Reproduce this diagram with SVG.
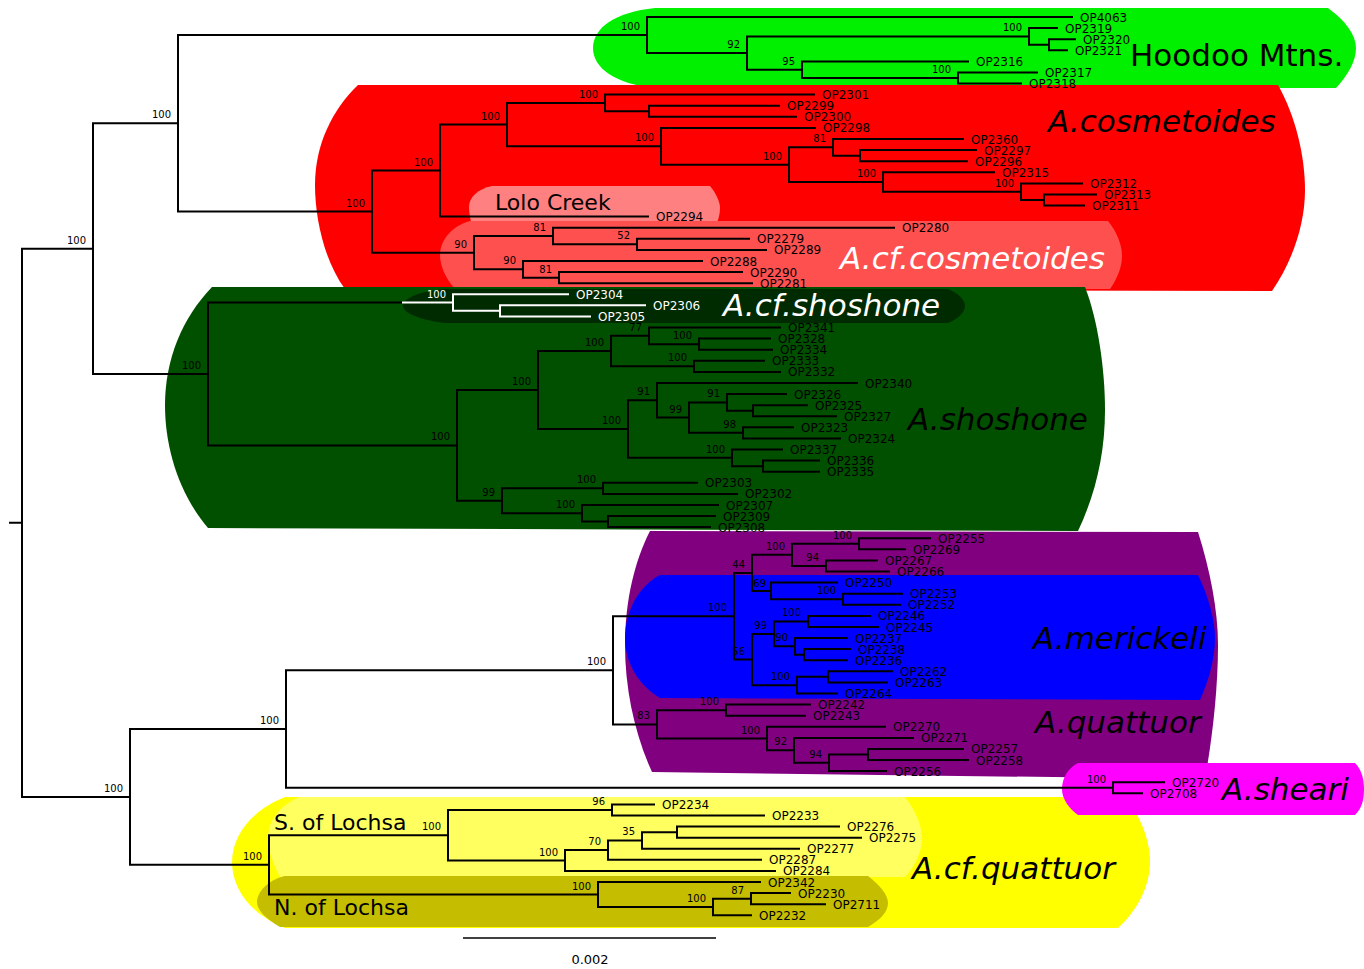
<svg xmlns="http://www.w3.org/2000/svg" width="1364" height="969" viewBox="0 0 1364 969">
<style>
.b{fill:none;stroke:#000;stroke-width:2;stroke-linecap:square}
.bw{fill:none;stroke:#fff;stroke-width:2;stroke-linecap:square}
text{font-family:"DejaVu Sans",Verdana,sans-serif;fill:#000}
.t{font-size:12px}
.s{font-size:10px;text-anchor:end}
.wt{fill:#fff}
.c{font-size:31px;font-style:italic}
.l{font-size:22px}
</style>
<rect width="1364" height="969" fill="#fff"/>
<g id="highlights">
<path id="hl-hoodoo" fill="#00f000" d="M655,8 L1328,8 C1345,20 1356,35 1356,48 C1356,62 1347,76 1336,88 L655,88 C615,84 593,68 593,48 C593,28 615,12 655,8 Z"/>
<path id="hl-cosmetoides" fill="#ff0000" d="M358,85 L1278,85 C1295,115 1305,155 1305,190 C1305,225 1292,262 1272,291 L345,289 C325,262 315,220 315,185 C315,145 332,110 358,85 Z"/>
<path id="hl-lolo" fill="#ff8080" d="M492,186 L710,186 C716,193 720,202 720,208 C720,215 718,221 715,227 L473,227 C470,220 469,212 469,207 C469,197 478,189 492,186 Z"/>
<path id="hl-cfcosm" fill="#ff5050" d="M470,221 L1108,221 C1117,232 1122,245 1122,256 C1122,267 1117,279 1110,289 L455,289 C445,278 440,265 440,255 C440,240 452,226 470,221 Z"/>
<path id="hl-shoshone" fill="#005000" d="M212,287 L1085,287 C1098,320 1105,370 1105,410 C1105,455 1095,495 1078,531 L208,528 C180,495 165,450 165,405 C165,360 182,318 212,287 Z"/>
<path id="hl-cfshoshone" fill="#002a00" d="M445,289 L948,289 C958,293 965,300 965,306 C965,312 958,319 948,323 L445,323 C420,320 403,313 403,306 C403,298 420,291 445,289 Z"/>
<path id="hl-quattuor" fill="#800080" d="M650,531 L1198,532 C1210,570 1218,610 1218,645 C1218,690 1212,740 1205,779 L652,772 C635,735 625,690 625,645 C625,600 635,560 650,531 Z"/>
<path id="hl-merickeli" fill="#0000ff" d="M660,575 L1198,575 C1208,595 1215,620 1215,638 C1215,660 1208,682 1200,700 L660,698 C638,685 625,662 625,638 C625,610 640,585 660,575 Z"/>
<path id="hl-cfquattuor" fill="#ffff00" d="M285,797 L1125,797 C1140,815 1150,840 1150,862 C1150,885 1138,910 1118,928 L285,928 C252,915 232,890 232,862 C232,835 252,810 285,797 Z"/>
<path id="hl-sheari" fill="#ff00ff" d="M1078,763 L1355,763 C1362,770 1364,780 1364,789 C1364,800 1362,808 1355,815 L1078,815 C1068,808 1062,798 1062,789 C1062,778 1068,768 1078,763 Z"/>
<path id="hl-slochsa" fill="#ffff60" d="M300,797 L905,797 C915,810 922,825 922,838 C922,852 915,866 905,877 L280,877 C272,862 268,848 268,838 C268,820 280,805 300,797 Z"/>
<path id="hl-nlochsa" fill="#c4bd00" d="M285,876 L868,876 C880,885 888,895 888,903 C888,912 880,920 868,927 L280,927 C265,918 257,910 257,902 C257,892 268,880 285,876 Z"/>
</g>
<g id="connectors">
<path class="b" d="M10,522.8 H22 M22,248.65 V796.9 M22,248.65 H93 M22,796.9 H130
M93,123.3 V374 M93,123.3 H178 M93,374 H208
M178,35 V211.6 M178,35 H647 M178,211.6 H372
M647,17 V53.05 M647,17 H1072 M647,53.05 H747
M747,36.4 V69.7 M747,36.4 H1029 M747,69.7 H802
M1029,28.1 V44.75 M1029,28.1 H1057 M1029,44.75 H1049
M1049,39.2 V50.3 M1049,39.2 H1075 M1049,50.3 H1067
M802,61.4 V78 M802,61.4 H968 M802,78 H958
M958,72.5 V83.5 M958,72.5 H1037 M958,83.5 H1021
M372,170.6 V252.65 M372,170.6 H440 M372,252.65 H474
M440,124.6 V216.6 M440,124.6 H507 M440,216.6 H648
M507,102.9 V146.3 M507,102.9 H605 M507,146.3 H661
M605,94.6 V111.25 M605,94.6 H814 M605,111.25 H649
M649,105.7 V116.8 M649,105.7 H779 M649,116.8 H796
M661,127.9 V164.65 M661,127.9 H815 M661,164.65 H789
M789,147.3 V182 M789,147.3 H833 M789,182 H883
M833,139 V155.65 M833,139 H963 M833,155.65 H860
M860,150.1 V161.2 M860,150.1 H976 M860,161.2 H967
M883,172.3 V191.7 M883,172.3 H994 M883,191.7 H1021
M1021,183.4 V200 M1021,183.4 H1082 M1021,200 H1044
M1044,194.4 V205.5 M1044,194.4 H1096 M1044,205.5 H1084
M474,236 V269.3 M474,236 H553 M474,269.3 H523
M553,227.7 V244.35 M553,227.7 H894 M553,244.35 H637
M637,238.8 V249.9 M637,238.8 H749 M637,249.9 H766
M523,261 V277.65 M523,261 H702 M523,277.65 H559
M559,272.1 V283.2 M559,272.1 H742 M559,283.2 H752
M208,302.6 V445.45 M208,302.6 H403 M208,445.45 H457
M457,390.1 V500.8 M457,390.1 H538 M457,500.8 H502
M538,351.1 V429.05 M538,351.1 H611 M538,429.05 H628
M611,335.8 V366.35 M611,335.8 H649 M611,366.35 H694
M649,327.5 V344.15 M649,327.5 H780 M649,344.15 H699
M699,338.6 V349.7 M699,338.6 H770 M699,349.7 H772
M694,360.8 V371.9 M694,360.8 H764 M694,371.9 H780
M628,400.3 V457.8 M628,400.3 H657 M628,457.8 H732
M657,383 V417.6 M657,383 H857 M657,417.6 H689
M689,402.4 V432.85 M689,402.4 H727 M689,432.85 H743
M727,394.1 V410.75 M727,394.1 H786 M727,410.75 H753
M753,405.2 V416.3 M753,405.2 H807 M753,416.3 H836
M743,427.3 V438.4 M743,427.3 H793 M743,438.4 H840
M732,449.5 V466.15 M732,449.5 H782 M732,466.15 H763
M763,460.6 V471.7 M763,460.6 H819 M763,471.7 H819
M502,488.35 V513.3 M502,488.35 H603 M502,513.3 H582
M603,482.8 V493.9 M603,482.8 H697 M603,493.9 H737
M582,505 V521.6 M582,505 H718 M582,521.6 H608
M608,516.1 V527.1 M608,516.1 H715 M608,527.1 H710
M130,729 V864.85 M130,729 H286 M130,864.85 H269
M286,670.3 V787.75 M286,670.3 H613 M286,787.75 H1113
M613,616.2 V724.4 M613,616.2 H734 M613,724.4 H657
M734,572.9 V659.55 M734,572.9 H752 M734,659.55 H752
M752,554.85 V590.9 M752,554.85 H792 M752,590.9 H771
M792,543.75 V565.95 M792,543.75 H859 M792,565.95 H826
M859,538.2 V549.3 M859,538.2 H930 M859,549.3 H905
M826,560.4 V571.5 M826,560.4 H877 M826,571.5 H889
M771,582.6 V599.25 M771,582.6 H837 M771,599.25 H843
M843,593.7 V604.8 M843,593.7 H902 M843,604.8 H900
M752,633.9 V685.2 M752,633.9 H774 M752,685.2 H797
M774,621.45 V646.3 M774,621.45 H808 M774,646.3 H795
M808,615.9 V627 M808,615.9 H870 M808,627 H878
M795,638 V654.65 M795,638 H847 M795,654.65 H804
M804,649.1 V660.2 M804,649.1 H850 M804,660.2 H847
M797,676.85 V693.5 M797,676.85 H828 M797,693.5 H837
M828,671.3 V682.4 M828,671.3 H892 M828,682.4 H887
M657,710.15 V738.6 M657,710.15 H726 M657,738.6 H767
M726,704.6 V715.7 M726,704.6 H810 M726,715.7 H805
M767,726.8 V750.35 M767,726.8 H885 M767,750.35 H794
M794,737.9 V762.8 M794,737.9 H913 M794,762.8 H829
M829,754.45 V771.1 M829,754.45 H868 M829,771.1 H886
M868,748.9 V760 M868,748.9 H963 M868,760 H968
M1113,782.2 V793.3 M1113,782.2 H1164 M1113,793.3 H1142
M269,835.2 V894.5 M269,835.2 H448 M269,894.5 H598
M448,809.95 V860.5 M448,809.95 H612 M448,860.5 H565
M612,804.4 V815.5 M612,804.4 H654 M612,815.5 H764
M565,850.1 V870.9 M565,850.1 H608 M565,870.9 H775
M608,840.4 V859.8 M608,840.4 H642 M608,859.8 H761
M642,832.15 V848.7 M642,832.15 H677 M642,848.7 H799
M677,826.6 V837.7 M677,826.6 H839 M677,837.7 H861
M598,882 V906.95 M598,882 H760 M598,906.95 H713
M713,898.65 V915.3 M713,898.65 H751 M713,915.3 H751
M751,893.1 V904.2 M751,893.1 H790 M751,904.2 H825"/>
<path class="bw" d="M403,302.6 H453 M453,294.3 V310.85 M453,294.3 H568 M453,310.85 H500 M500,305.3 V316.4 M500,305.3 H645 M500,316.4 H590"/>
<path id="scale-bar" fill="none" stroke="#000" stroke-width="1.5" d="M463,938 H716"/>
</g>
<g id="support">
<text class="s" x="640" y="30">100</text>
<text class="s" x="740" y="48">92</text>
<text class="s" x="1022" y="31.4">100</text>
<text class="s" x="795" y="64.7">95</text>
<text class="s" x="951" y="73">100</text>
<text class="s" x="171" y="118.3">100</text>
<text class="s" x="86" y="243.6">100</text>
<text class="s" x="365" y="206.6">100</text>
<text class="s" x="433" y="165.6">100</text>
<text class="s" x="500" y="119.6">100</text>
<text class="s" x="598" y="97.9">100</text>
<text class="s" x="654" y="141.3">100</text>
<text class="s" x="782" y="159.6">100</text>
<text class="s" x="826" y="142.3">81</text>
<text class="s" x="876" y="177">100</text>
<text class="s" x="1014" y="186.7">100</text>
<text class="s" x="467" y="247.6">90</text>
<text class="s" x="546" y="231">81</text>
<text class="s" x="630" y="239.3">52</text>
<text class="s" x="516" y="264.3">90</text>
<text class="s" x="552" y="272.6">81</text>
<text class="s" x="201" y="369">100</text>
<text class="s wt" x="446" y="297.6">100</text>
<text class="s" x="450" y="440.4">100</text>
<text class="s" x="531" y="385.1">100</text>
<text class="s" x="604" y="346.1">100</text>
<text class="s" x="642" y="330.8">77</text>
<text class="s" x="692" y="339.1">100</text>
<text class="s" x="687" y="361.3">100</text>
<text class="s" x="621" y="424">100</text>
<text class="s" x="650" y="395.3">91</text>
<text class="s" x="682" y="412.6">99</text>
<text class="s" x="720" y="397.4">91</text>
<text class="s" x="736" y="427.8">98</text>
<text class="s" x="725" y="452.8">100</text>
<text class="s" x="495" y="495.8">99</text>
<text class="s" x="596" y="483.3">100</text>
<text class="s" x="575" y="508.3">100</text>
<text class="s" x="123" y="791.9">100</text>
<text class="s" x="279" y="724">100</text>
<text class="s" x="606" y="665.3">100</text>
<text class="s" x="727" y="611.2">100</text>
<text class="s" x="745" y="567.9">44</text>
<text class="s" x="785" y="549.8">100</text>
<text class="s" x="852" y="538.7">100</text>
<text class="s" x="819" y="560.9">94</text>
<text class="s" x="766" y="587">69</text>
<text class="s" x="836" y="594.2">100</text>
<text class="s" x="745" y="654.5">56</text>
<text class="s" x="767" y="628.9">99</text>
<text class="s" x="801" y="616.4">100</text>
<text class="s" x="788" y="641.3">90</text>
<text class="s" x="790" y="680.2">100</text>
<text class="s" x="650" y="719.4">83</text>
<text class="s" x="719" y="705.1">100</text>
<text class="s" x="760" y="733.6">100</text>
<text class="s" x="787" y="745.3">92</text>
<text class="s" x="822" y="757.8">94</text>
<text class="s" x="1106" y="782.7">100</text>
<text class="s" x="262" y="859.8">100</text>
<text class="s" x="441" y="830.2">100</text>
<text class="s" x="605" y="804.9">96</text>
<text class="s" x="558" y="855.5">100</text>
<text class="s" x="601" y="845.1">70</text>
<text class="s" x="635" y="835.4">35</text>
<text class="s" x="591" y="889.5">100</text>
<text class="s" x="706" y="901.9">100</text>
<text class="s" x="744" y="893.6">87</text>
</g>
<g id="tips" class="t">
<text class="t" x="1080" y="21.5">OP4063</text>
<text class="t" x="1065" y="32.6">OP2319</text>
<text class="t" x="1083" y="43.7">OP2320</text>
<text class="t" x="1075" y="54.8">OP2321</text>
<text class="t" x="976" y="65.9">OP2316</text>
<text class="t" x="1045" y="77">OP2317</text>
<text class="t" x="1029" y="88">OP2318</text>
<text class="t" x="822" y="99.1">OP2301</text>
<text class="t" x="787" y="110.2">OP2299</text>
<text class="t" x="804" y="121.3">OP2300</text>
<text class="t" x="823" y="132.4">OP2298</text>
<text class="t" x="971" y="143.5">OP2360</text>
<text class="t" x="984" y="154.6">OP2297</text>
<text class="t" x="975" y="165.7">OP2296</text>
<text class="t" x="1002" y="176.8">OP2315</text>
<text class="t" x="1090" y="187.9">OP2312</text>
<text class="t" x="1104" y="198.9">OP2313</text>
<text class="t" x="1092" y="210">OP2311</text>
<text class="t" x="656" y="221.1">OP2294</text>
<text class="t" x="902" y="232.2">OP2280</text>
<text class="t" x="757" y="243.3">OP2279</text>
<text class="t" x="774" y="254.4">OP2289</text>
<text class="t" x="710" y="265.5">OP2288</text>
<text class="t" x="750" y="276.6">OP2290</text>
<text class="t" x="760" y="287.7">OP2281</text>
<text class="t wt" x="576" y="298.8">OP2304</text>
<text class="t wt" x="653" y="309.8">OP2306</text>
<text class="t wt" x="598" y="320.9">OP2305</text>
<text class="t" x="788" y="332">OP2341</text>
<text class="t" x="778" y="343.1">OP2328</text>
<text class="t" x="780" y="354.2">OP2334</text>
<text class="t" x="772" y="365.3">OP2333</text>
<text class="t" x="788" y="376.4">OP2332</text>
<text class="t" x="865" y="387.5">OP2340</text>
<text class="t" x="794" y="398.6">OP2326</text>
<text class="t" x="815" y="409.7">OP2325</text>
<text class="t" x="844" y="420.8">OP2327</text>
<text class="t" x="801" y="431.8">OP2323</text>
<text class="t" x="848" y="442.9">OP2324</text>
<text class="t" x="790" y="454">OP2337</text>
<text class="t" x="827" y="465.1">OP2336</text>
<text class="t" x="827" y="476.2">OP2335</text>
<text class="t" x="705" y="487.3">OP2303</text>
<text class="t" x="745" y="498.4">OP2302</text>
<text class="t" x="726" y="509.5">OP2307</text>
<text class="t" x="723" y="520.6">OP2309</text>
<text class="t" x="718" y="531.6">OP2308</text>
<text class="t" x="938" y="542.7">OP2255</text>
<text class="t" x="913" y="553.8">OP2269</text>
<text class="t" x="885" y="564.9">OP2267</text>
<text class="t" x="897" y="576">OP2266</text>
<text class="t" x="845" y="587.1">OP2250</text>
<text class="t" x="910" y="598.2">OP2253</text>
<text class="t" x="908" y="609.3">OP2252</text>
<text class="t" x="878" y="620.4">OP2246</text>
<text class="t" x="886" y="631.5">OP2245</text>
<text class="t" x="855" y="642.5">OP2237</text>
<text class="t" x="858" y="653.6">OP2238</text>
<text class="t" x="855" y="664.7">OP2236</text>
<text class="t" x="900" y="675.8">OP2262</text>
<text class="t" x="895" y="686.9">OP2263</text>
<text class="t" x="845" y="698">OP2264</text>
<text class="t" x="818" y="709.1">OP2242</text>
<text class="t" x="813" y="720.2">OP2243</text>
<text class="t" x="893" y="731.3">OP2270</text>
<text class="t" x="921" y="742.4">OP2271</text>
<text class="t" x="971" y="753.4">OP2257</text>
<text class="t" x="976" y="764.5">OP2258</text>
<text class="t" x="894" y="775.6">OP2256</text>
<text class="t" x="1172" y="786.7">OP2720</text>
<text class="t" x="1150" y="797.8">OP2708</text>
<text class="t" x="662" y="808.9">OP2234</text>
<text class="t" x="772" y="820">OP2233</text>
<text class="t" x="847" y="831.1">OP2276</text>
<text class="t" x="869" y="842.2">OP2275</text>
<text class="t" x="807" y="853.2">OP2277</text>
<text class="t" x="769" y="864.3">OP2287</text>
<text class="t" x="783" y="875.4">OP2284</text>
<text class="t" x="768" y="886.5">OP2342</text>
<text class="t" x="798" y="897.6">OP2230</text>
<text class="t" x="833" y="908.7">OP2711</text>
<text class="t" x="759" y="919.8">OP2232</text>
</g>
<g id="clade-labels">
<text id="lbl-hoodoo" x="1130" y="66" style="font-size:31px">Hoodoo Mtns.</text>
<text id="lbl-cosmetoides" class="c" x="1048" y="132">A.cosmetoides</text>
<text id="lbl-lolo" class="l" x="495" y="210">Lolo Creek</text>
<text id="lbl-cfcosm" class="c wt" x="840" y="269">A.cf.cosmetoides</text>
<text id="lbl-cfshoshone" class="c wt" x="723" y="316">A.cf.shoshone</text>
<text id="lbl-shoshone" class="c" x="908" y="430">A.shoshone</text>
<text id="lbl-merickeli" class="c" x="1033" y="649">A.merickeli</text>
<text id="lbl-quattuor" class="c" x="1035" y="733">A.quattuor</text>
<text id="lbl-sheari" class="c" x="1222" y="800">A.sheari</text>
<text id="lbl-cfquattuor" class="c" x="912" y="879">A.cf.quattuor</text>
<text id="lbl-slochsa" class="l" x="274" y="830">S. of Lochsa</text>
<text id="lbl-nlochsa" class="l" x="274" y="915">N. of Lochsa</text>
<text id="lbl-scale" x="590" y="964" style="font-size:13px;text-anchor:middle">0.002</text>
</g>
</svg>
